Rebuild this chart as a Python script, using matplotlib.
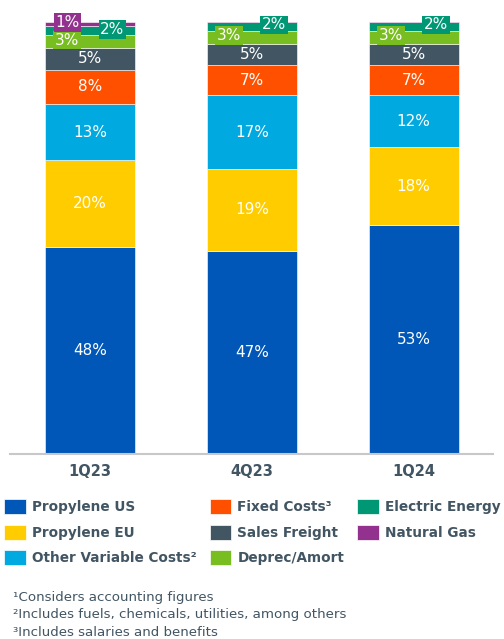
import matplotlib
matplotlib.use("Agg")
import matplotlib.pyplot as plt
import numpy as np

plt.rcParams['font.family'] = ['DejaVu Sans']

categories = ["1Q23", "4Q23", "1Q24"]
series_names = ["Propylene US", "Propylene EU", "Other Variable Costs²", "Fixed Costs³",
                "Sales Freight", "Deprec/Amort", "Electric Energy", "Natural Gas"]
propylene_us = [48, 47, 53]
propylene_eu = [20, 19, 18]
other_variable = [13, 17, 12]
fixed_costs = [8, 7, 7]
sales_freight = [5, 5, 5]
deprec_amort = [3, 3, 3]
electric_energy = [2, 2, 2]
natural_gas = [1, 0.3, 0.3]
footnotes = ["¹Considers accounting figures",
             "²Includes fuels, chemicals, utilities, among others",
             "³Includes salaries and benefits"]

colors = ["#0057B8", "#FFCC00", "#00A9E0", "#FF5000", "#425563", "#78BE20", "#009775", "#93328E"]
series = [propylene_us, propylene_eu, other_variable, fixed_costs,
          sales_freight, deprec_amort, electric_energy, natural_gas]
# side placement for small-segment labels: 0 centered, -1 left, +1 right
side = [0, 0, 0, 0, 0, -1, 1, -1]
yshift = [0, 0, 0, 0, 0, 1, 1, 1]

W, H = 504, 639
fig = plt.figure(figsize=(W / 100, H / 100), dpi=100)
ax = fig.add_axes([10 / W, (H - 454) / H, 483 / W, 432 / H])

x = np.arange(len(categories))
width = 0.556
bottom = np.zeros(len(categories))
for vals, c, name, sd, ys in zip(series, colors, series_names, side, yshift):
    vals = np.array(vals, dtype=float)
    ax.bar(x, vals, width, bottom=bottom, color=c, edgecolor="white", linewidth=0.4,
           label=name, zorder=2)
    for xi, v, b in zip(x, vals, bottom):
        if v < 0.5:
            continue
        txt = f"{int(round(v))}%"
        yc = b + v / 2
        if sd == 0:
            ax.text(xi, yc, txt, ha="center", va="center", color="white", fontsize=11, zorder=4)
        else:
            ax.annotate(txt, (xi + sd * 0.139, yc), xytext=(0, ys), textcoords="offset points",
                        ha="center", va="center", color="white", fontsize=11, zorder=5,
                        bbox=dict(boxstyle="square,pad=0.12", fc=c, ec="none"))
    bottom += vals

ax.set_xlim(-0.494, 2.49)
ax.set_ylim(0, 100)
for s in ["top", "right", "left"]:
    ax.spines[s].set_visible(False)
ax.spines["bottom"].set_color("#C8C8C8")
ax.spines["bottom"].set_linewidth(1.5)
ax.spines["bottom"].set_zorder(6)
ax.set_yticks([])
ax.set_xticks(x)
ax.set_xticklabels(categories, fontsize=10.5, fontweight="bold", color="#425563")
ax.tick_params(axis="x", length=0, pad=7)

handles, labels = ax.get_legend_handles_labels()
leg = fig.legend(handles, labels, ncol=3, loc="upper left",
                 bbox_to_anchor=(0 / W, 1 - 495 / H), frameon=False,
                 prop={"size": 9.8, "weight": "bold"}, labelcolor="#425563",
                 handlelength=1.6, handleheight=1.3, handletextpad=0.45,
                 columnspacing=0.95, labelspacing=0.78, borderaxespad=0, borderpad=0.3)
for h in leg.legend_handles:
    h.set_edgecolor("white")
    h.set_linewidth(0.5)

for i, t in enumerate(footnotes):
    fig.text(13 / W, 1 - (597 + i * 17.8) / H, t, fontsize=9.6, color="#425563",
             ha="left", va="center")

fig.savefig("out.png", dpi=100)
